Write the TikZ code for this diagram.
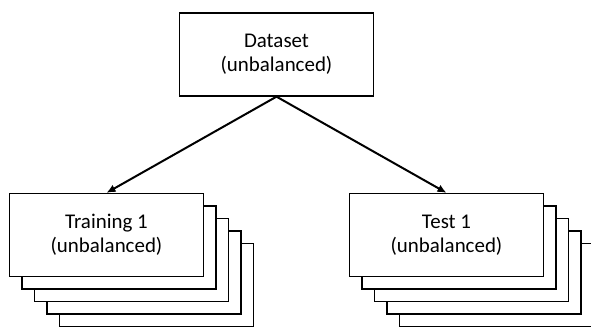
\documentclass[tikz,border=0pt]{standalone}
\usepackage{fontspec}
\setmainfont{Carlito}
\usetikzlibrary{arrows.meta}
\begin{document}
\begin{tikzpicture}[x=1bp,y=1bp,
  box/.style={draw, line width=1.3bp, fill=white, minimum width=194bp, minimum height=83bp, align=center, inner sep=0pt, font=\fontsize{21}{24}\selectfont},
  link/.style={-{Latex[length=9bp,width=8bp]}, line width=2bp}]
\useasboundingbox (0,0) rectangle (591,327);
\node[box] (data) at (276.5,272.5) {Dataset\\(unbalanced)};
\foreach \i in {4,3,2,1}{
  \node[box] (train\i) at (106.5+12.5*\i,92-12.5*\i) {};
  \node[box] (test\i) at (446.5+12.5*\i,92-12.5*\i) {};
}
\node[box] (train) at (106.5,92) {Training 1\\(unbalanced)};
\node[box] (test) at (446.5,92) {Test 1\\(unbalanced)};
\draw[link] (data.south) -- (train.north);
\draw[link] (data.south) -- (test.north);
\end{tikzpicture}
\end{document}
